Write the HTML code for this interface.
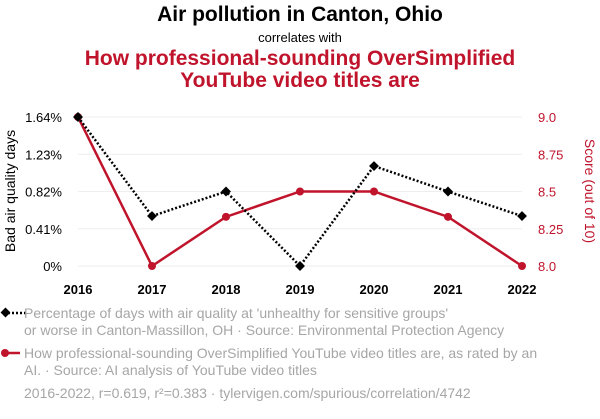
<!DOCTYPE html>
<html><head><meta charset="utf-8"><style>
body{margin:0;background:#fff;width:600px;height:414px;overflow:hidden;font-family:"Liberation Sans",sans-serif}
svg text{font-family:"Liberation Sans",sans-serif}
</style></head><body>
<svg id="c" width="600" height="414">
<text x="300" y="21" text-anchor="middle" font-size="21" font-weight="bold" fill="#000">Air pollution in Canton, Ohio</text>
<text x="300" y="42" text-anchor="middle" font-size="13" fill="#000">correlates with</text>
<text x="300" y="65" text-anchor="middle" font-size="21" font-weight="bold" fill="#c0142c">How professional-sounding OverSimplified</text>
<text x="300" y="87" text-anchor="middle" font-size="21" font-weight="bold" fill="#c0142c">YouTube video titles are</text>
<g id="grid"></g>
<text transform="translate(15,191) rotate(-90)" text-anchor="middle" font-size="14" fill="#000">Bad air quality days</text>
<text transform="translate(585,191) rotate(90)" text-anchor="middle" font-size="14" fill="#c0142c">Score (out of 10)</text>
<g id="marks"></g>
<g>
<line x1="4" y1="313" x2="28" y2="313" stroke="#000" stroke-width="2.5" stroke-dasharray="2,2"/>
<rect x="2" y="309" width="7" height="7" transform="rotate(45 5.5 312.5)" fill="#000"/>
<text x="24" y="318" font-size="14" fill="#a6a6a6">Percentage of days with air quality at 'unhealthy for sensitive groups'</text>
<text x="24" y="335" font-size="14" fill="#a6a6a6">or worse in Canton-Massillon, OH · Source: Environmental Protection Agency</text>
</g>
<g>
<line x1="4" y1="353" x2="20" y2="353" stroke="#c0142c" stroke-width="2.5"/>
<circle cx="5" cy="353" r="4" fill="#c0142c"/>
<text x="24" y="358" font-size="14" fill="#a6a6a6">How professional-sounding OverSimplified YouTube video titles are, as rated by an</text>
<text x="24" y="375" font-size="14" fill="#a6a6a6">AI. · Source: AI analysis of YouTube video titles</text>
</g>
<text x="24" y="398" font-size="14" fill="#a6a6a6">2016-2022, r=0.619, r²=0.383 · tylervigen.com/spurious/correlation/4742</text>
</svg>
<script>
const years=[2016,2017,2018,2019,2020,2021,2022];
const airValues=[1.64,0.55,0.82,0,1.1,0.82,0.55];
const scoreValues=[9.0,8.0,8.33,8.5,8.5,8.33,8.0];
const leftTicks=[0,0.41,0.82,1.23,1.64];
const leftTickLabels=["0%","0.41%","0.82%","1.23%","1.64%"];
const rightTicks=[8.0,8.25,8.5,8.75,9.0];
const rightTickLabels=["8.0","8.25","8.5","8.75","9.0"];
const NS="http://www.w3.org/2000/svg";
const x=y=>78+(y-2016)*74;
const yl=v=>266-v/1.64*149;
const yr=v=>266-(v-8)/1*149;
function mk(t,a,p){const e=document.createElementNS(NS,t);for(const k in a)e.setAttribute(k,a[k]);p.appendChild(e);return e;}
const g=document.getElementById('grid'),m=document.getElementById('marks');
leftTicks.forEach((v,i)=>{
 const l=mk('line',{x1:78,x2:522,y1:yl(v),y2:yl(v),stroke:'#eee'},g);
 
 
 const t=mk('text',{x:62,y:yl(v)+5,'text-anchor':'end','font-size':13,fill:'#000'},g);t.textContent=leftTickLabels[i];
 
 
});
rightTicks.forEach((v,i)=>{
 const t=mk('text',{x:538,y:yr(v)+5,'font-size':13,fill:'#c0142c'},g);t.textContent=rightTickLabels[i];
 
 
});
years.forEach(y=>{
 const t=mk('text',{x:x(y),y:294,'text-anchor':'middle','font-size':13,'font-weight':'bold',fill:'#000'},g);t.textContent=y;
 
 
});
const rl=mk('polyline',{points:years.map((y,i)=>x(y)+','+yr(scoreValues[i])).join(' '),fill:'none',stroke:'#c0142c','stroke-width':2.5},m);


const bl=mk('polyline',{points:years.map((y,i)=>x(y)+','+yl(airValues[i])).join(' '),fill:'none',stroke:'#000','stroke-width':2.5,'stroke-dasharray':'2,2'},m);


years.forEach((y,i)=>{
 const c=mk('circle',{cx:x(y),cy:yr(scoreValues[i]),r:4,fill:'#c0142c'},m);
 
 
 const cx=x(y),cy=yl(airValues[i]);
 const d=mk('rect',{x:cx-3.5,y:cy-3.5,width:7,height:7,fill:'#000',transform:`rotate(45 ${cx} ${cy})`},m);
 
 
});
</script>
</body></html>
